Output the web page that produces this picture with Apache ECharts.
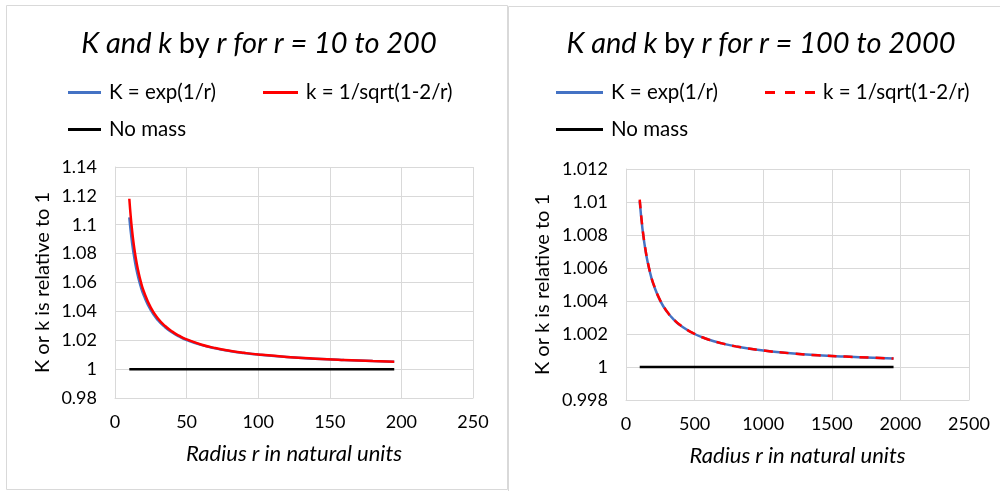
<!DOCTYPE html>
<html><head><meta charset="utf-8">
<script src="https://cdn.jsdelivr.net/npm/echarts@6/dist/echarts.min.js"></script>
<style>html,body{margin:0;padding:0;background:#fff}#c{width:1000px;height:491px}</style>
</head><body><div id="c"></div>
<script>
// Left chart data (r = 10 to 195)
const rLeft = [10,11,12,13,14,15,16,18,20,25,30,35,40,45,50,60,70,80,90,100,120,140,160,180,195];
const bigKLeft = [1.10517,1.09516,1.08690,1.07996,1.07404,1.06894,1.06449,1.05713,1.05127,1.04081,1.03390,1.02899,1.02532,1.02247,1.02020,1.01681,1.01439,1.01258,1.01117,1.01005,1.00837,1.00717,1.00627,1.00557,1.00514];
const smallKLeft = [1.11803,1.10554,1.09545,1.08711,1.08012,1.07417,1.06904,1.06066,1.05409,1.04257,1.03510,1.02986,1.02598,1.02299,1.02062,1.01710,1.01460,1.01274,1.01130,1.01015,1.00844,1.00722,1.00631,1.00560,1.00517];
const noMassLeftR = [10,195];
const noMassLeft = [1,1];
// Right chart data (r = 100 to 1950)
const rRight = [100,120,140,160,180,200,250,300,350,400,500,600,700,800,1000,1200,1400,1600,1800,1950];
const bigKRight = [1.01005,1.00837,1.00717,1.00627,1.00557,1.00501,1.00401,1.00334,1.00286,1.00250,1.00200,1.00167,1.00143,1.00125,1.00100,1.00083,1.00071,1.00063,1.00056,1.00051];
const smallKRight = [1.01015,1.00844,1.00722,1.00631,1.00560,1.00504,1.00402,1.00335,1.00287,1.00251,1.00201,1.00167,1.00143,1.00125,1.00100,1.00083,1.00071,1.00063,1.00056,1.00051];
const noMassRightR = [100,1950];
const noMassRight = [1,1];
// Axis ticks
const xTicksLeft = {min:0, max:250, interval:50};
const yTicksLeft = {min:0.98, max:1.14, interval:0.02};
const xTicksRight = {min:0, max:2500, interval:500};
const yTicksRight = {min:0.998, max:1.012, interval:0.002};

const names = ['K = exp(1/r)', 'k = 1/sqrt(1-2/r)', 'No mass'];
const FONT = 'Lato';
const zip = (a,b) => a.map((v,i)=>[v,b[i]]);
const grid = '#d9d9d9';

function xAx(idx, t){
  return {gridIndex: idx, type:'value', min:t.min, max:t.max, interval:t.interval,
    axisLine:{show:true, lineStyle:{color:grid}}, axisTick:{show:false},
    splitLine:{show:true, lineStyle:{color:grid}},
    axisLabel:{fontFamily:FONT, fontSize:18, color:'#000', margin:15, formatter:v=>String(v)},
    name:'Radius r in natural units', nameLocation:'middle', nameGap:45,
    nameTextStyle:{fontFamily:FONT, fontSize:22, fontStyle:'italic', color:'#000'}};
}
function yAx(idx, t, dec, gap){
  return {gridIndex: idx, type:'value', min:t.min, max:t.max, interval:t.interval,
    axisLine:{show:true, lineStyle:{color:grid}}, axisTick:{show:false},
    splitLine:{show:true, lineStyle:{color:grid}},
    axisLabel:{fontFamily:FONT, fontSize:18, color:'#000', margin:18, formatter:v=>String(+v.toFixed(dec))},
    name:'K or k is relative to 1', nameLocation:'middle', nameGap:gap, nameRotate:90,
    nameTextStyle:{fontFamily:FONT, fontSize:20, color:'#000'}};
}
function titleObj(txt, left){
  const base = {fontFamily:FONT, fontSize:29, fontWeight:'normal', color:'#000'};
  return {text:txt, left:left, top:24, textAlign:'center',
    textStyle:{fontWeight:'normal', rich:{i:Object.assign({fontStyle:'italic'}, base), n:Object.assign({}, base)}}};
}
const solidIcon = w => 'path://M0,0H' + w + 'V3H0Z';
const dashIcon = 'path://M0,0H10V3H0Z M20,0H30V3H20Z M40,0H50V3H40Z';
function leg(name, icon, left, top, w){
  return {data:[{name:name, icon:icon}], left:left, top:top, itemWidth:w, itemHeight:3, padding:0,
    textStyle:{fontFamily:FONT, fontSize:20.5, color:'#000', padding:[0,0,0,3]}, selectedMode:false};
}
const chart = echarts.init(document.getElementById('c'));
chart.setOption({
  animation:false,
  graphic:[
    {type:'rect', shape:{x:6.5,y:5.5,width:501,height:484}, style:{fill:'none', stroke:grid, lineWidth:1}},
    {type:'polyline', shape:{points:[[508.5,491],[508.5,6.5],[1000,6.5]]}, style:{fill:'none', stroke:grid, lineWidth:1}}
  ],
  title:[
    titleObj('{i|K and k }{n|by}{i| r for r = 10 to 200}', 254),
    titleObj('{i|K and k }{n|by}{i| r for r = 100 to 2000}', 756)
  ],
  legend:[
    leg(names[0], solidIcon(33), 68, 82, 33), leg(names[1], solidIcon(35), 263, 82, 35), leg(names[2], solidIcon(33), 68, 119, 33),
    leg(names[0], solidIcon(47), 556, 82, 47), leg(names[1], dashIcon, 765, 82, 50), leg(names[2], solidIcon(47), 556, 119, 47)
  ],
  grid:[
    {left:115, top:167, width:358, height:231},
    {left:626, top:169, width:343, height:231}
  ],
  xAxis:[xAx(0, xTicksLeft), xAx(1, xTicksRight)],
  yAxis:[yAx(0, yTicksLeft, 3, 62), yAx(1, yTicksRight, 4, 73)],
  series:[
    {name:names[0], type:'line', xAxisIndex:0, yAxisIndex:0, data:zip(rLeft,bigKLeft), smooth:true, symbol:'none', lineStyle:{color:'#4472C4', width:2.5}, itemStyle:{color:'#4472C4'}},
    {name:names[1], type:'line', xAxisIndex:0, yAxisIndex:0, data:zip(rLeft,smallKLeft), smooth:true, symbol:'none', lineStyle:{color:'#FF0000', width:2.5}, itemStyle:{color:'#FF0000'}},
    {name:names[2], type:'line', xAxisIndex:0, yAxisIndex:0, data:zip(noMassLeftR,noMassLeft), symbol:'none', lineStyle:{color:'#000', width:2.5}, itemStyle:{color:'#000'}},
    {name:names[0], type:'line', xAxisIndex:1, yAxisIndex:1, data:zip(rRight,bigKRight), smooth:true, symbol:'none', lineStyle:{color:'#4472C4', width:2.5}, itemStyle:{color:'#4472C4'}},
    {name:names[1], type:'line', xAxisIndex:1, yAxisIndex:1, data:zip(rRight,smallKRight), smooth:true, symbol:'none', lineStyle:{color:'#FF0000', width:2.5, type:[9,7]}, itemStyle:{color:'#FF0000'}},
    {name:names[2], type:'line', xAxisIndex:1, yAxisIndex:1, data:zip(noMassRightR,noMassRight), symbol:'none', lineStyle:{color:'#000', width:2.5}, itemStyle:{color:'#000'}}
  ]
});
</script></body></html>
